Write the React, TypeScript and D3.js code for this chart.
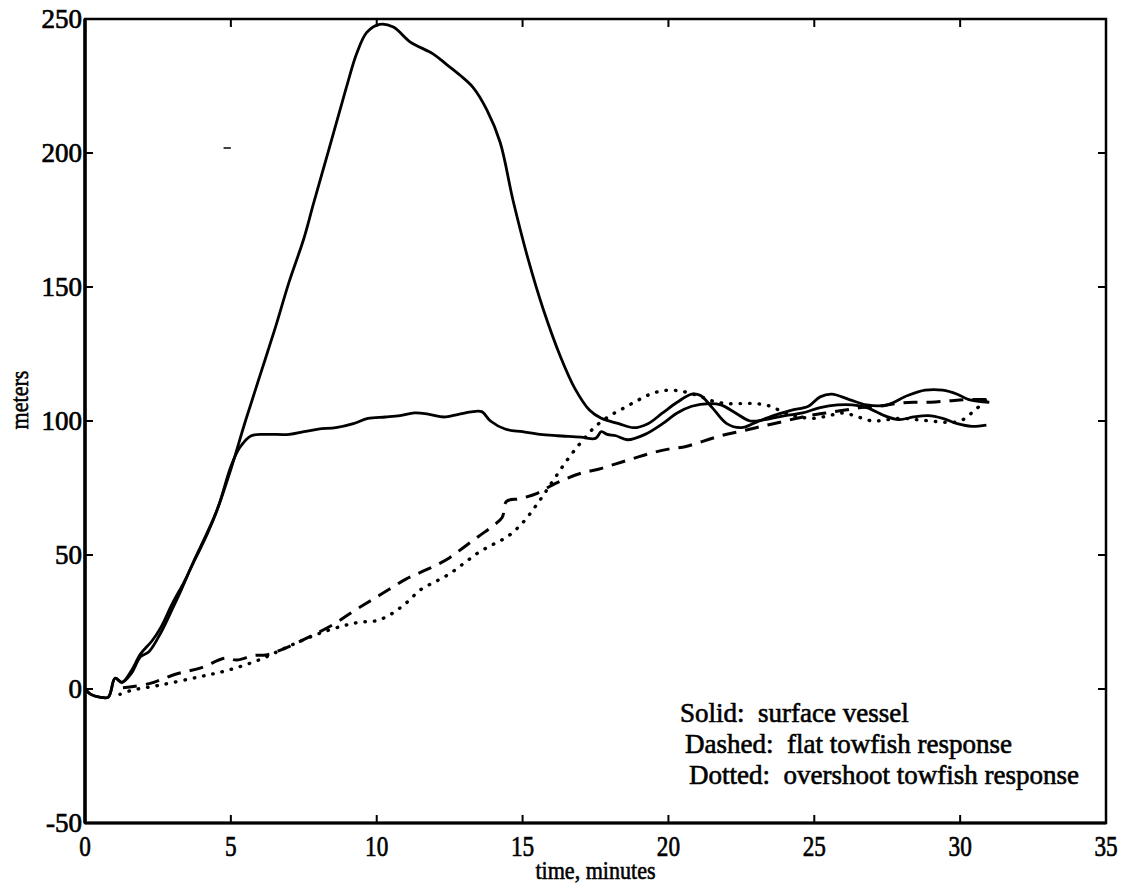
import React from "react";
import * as d3 from "d3";

type P = [number, number];

const xTicks = [0, 5, 10, 15, 20, 25, 30, 35];
const yTicks = [-50, 0, 50, 100, 150, 200, 250];

const surfaceA: P[] = [[0,0],[0.2,-2],[0.5,-3],[0.8,-3],[1.03,4],[1.27,2.5],[1.6,6],[1.9,12],[2.2,14],[2.6,21],[3.0,30],[3.3,37],[3.7,47],[4.0,54],[4.5,66],[5.0,82],[5.5,100],[6,117],[6.5,134],[7,152],[7.5,168],[7.83,181],[8.3,199],[8.74,216],[9.0,226],[9.31,237],[9.66,245],[10.1,248],[10.57,247],[11.14,241.5],[11.93,237],[12.4,233],[12.86,229],[13.3,224.5],[13.78,216],[14.23,204],[14.68,182],[15.2,160],[15.7,142],[16.3,124],[16.8,112],[17.3,104],[17.7,101],[18.3,99],[18.8,97.5],[19.3,99],[19.8,103],[20.3,107],[20.8,110],[21.1,109.5],[21.5,105],[22,99],[22.5,97.5],[23,99.5],[23.6,102],[24.2,104],[24.8,105.5],[25.2,109],[25.6,110],[26.2,108],[26.8,106],[27.5,106],[28.2,109.5],[28.8,111.5],[29.4,111.5],[29.9,110],[30.3,108],[31,107]];

const surfaceB: P[] = [[0,0],[0.2,-2],[0.5,-3],[0.8,-3],[1.03,4],[1.27,2.5],[1.6,7],[1.9,13],[2.3,18],[2.6,23],[3.0,32],[3.4,40],[3.8,49],[4.2,58],[4.6,69],[5.0,83],[5.3,90],[5.7,94.5],[6.2,95],[7,95],[7.5,96],[8,97],[8.6,97.5],[9.2,99],[9.7,101],[10.3,101.5],[10.8,102],[11.3,103],[11.8,102.5],[12.3,101.5],[12.8,102.5],[13.3,103.5],[13.6,103.5],[13.9,100],[14.4,97],[15,96],[15.6,95],[16.2,94.5],[17,94],[17.5,93.5],[17.7,96],[17.9,95],[18.2,94.5],[18.6,93],[19.2,95],[19.8,99],[20.3,103],[20.8,105.5],[21.4,106.5],[21.8,106],[22.3,103],[22.8,100],[23.3,100.5],[24,102],[24.6,103],[25.2,105],[25.8,106],[26.3,106],[26.8,105],[27.4,102],[27.9,100.5],[28.4,101.5],[28.9,102],[29.4,101],[29.9,99],[30.4,98],[30.9,98.5]];

const flatTowfish: P[] = [[1.3,0.5],[2.2,2],[3.1,5.5],[4.0,8],[4.8,11.5],[5.2,10.8],[5.8,12.5],[6.2,12.7],[6.7,14.5],[7.6,19],[8.5,24],[9.2,29],[9.8,33],[10.4,37],[11,41],[11.5,43.5],[12,46],[12.5,49],[13,53],[13.5,57],[14,61],[14.3,64],[14.45,70],[14.9,71],[15.5,73],[16,76],[16.5,78.5],[17,80.5],[17.6,82],[18.2,84],[18.8,86],[19.4,88],[20,89.5],[20.6,90.5],[21.2,92.5],[21.8,94.5],[22.4,96],[23,97.5],[23.6,99],[24.2,100.5],[24.8,102],[25.4,103],[26,104],[26.6,105],[27.2,105.5],[27.8,106.5],[28.4,107],[29,107],[29.6,107.5],[30.2,108],[30.9,108]];

const overshootTowfish: P[] = [[1.2,-2],[1.6,-0.5],[2.6,1.5],[3.9,4.5],[4.9,7],[6,11],[7.1,16.5],[8.1,21],[9,24],[9.5,25],[10,25.5],[10.5,28],[11,32],[11.5,37],[12,40],[12.5,43],[13,47],[13.5,51],[14,54],[14.5,57],[15,62],[15.5,69],[16,77],[16.5,85],[17,92],[17.5,98],[18,102],[18.5,105],[19,108],[19.5,110.5],[20,111.5],[20.5,111],[21,109.5],[21.5,107.5],[22,106.5],[22.5,106.5],[23,106.5],[23.5,105.5],[24,103],[24.5,101.5],[25,101],[25.5,102],[26,103],[26.5,101.5],[27,100],[27.5,100.5],[28,101],[28.5,100.5],[29,100],[29.5,99.5],[30,100],[30.5,104],[31,109]];

const legendLines = ["Solid:  surface vessel", "Dashed:  flat towfish response", "Dotted:  overshoot towfish response"];
const legendIndent = [0, 5, 9];

const W = 1127, H = 896;
const M = { left: 85, right: 1106, top: 19, bottom: 823 };
const FONT = "'Liberation Serif', 'Times New Roman', serif";

export default function App() {
  const x = d3.scaleLinear().domain([0, 35]).range([M.left, M.right]);
  const y = d3.scaleLinear().domain([-50, 250]).range([M.bottom, M.top]);
  const line = d3.line<P>().x(d => x(d[0])).y(d => y(d[1])).curve(d3.curveCatmullRom.alpha(0.5));
  const tick = 8;
  return (
    <svg width={W} height={H} style={{ position: "absolute", left: 0, top: 0, background: "#fff" }} fontFamily={FONT}>
      <rect x={0} y={0} width={W} height={H} fill="#fff" />
      <rect x={M.left} y={M.top} width={M.right - M.left} height={M.bottom - M.top} fill="none" stroke="#000" strokeWidth={2.5} />
      <line x1={M.left} x2={M.left} y1={M.top} y2={M.bottom} stroke="#000" strokeWidth={3.5} />
      <line x1={M.left} x2={M.right} y1={M.bottom} y2={M.bottom} stroke="#000" strokeWidth={3} />
      {xTicks.map(t => (
        <g key={"xt" + t}>
          <line x1={x(t)} x2={x(t)} y1={M.bottom} y2={M.bottom - tick} stroke="#000" strokeWidth={2} />
          <line x1={x(t)} x2={x(t)} y1={M.top} y2={M.top + tick} stroke="#000" strokeWidth={2} />
          <text x={0} y={0} transform={`translate(${x(t)},${M.bottom + 33}) scale(0.8,1)`} textAnchor="middle" fontSize={29} fill="#000" stroke="#000" strokeWidth={0.7}>{t}</text>
        </g>
      ))}
      {yTicks.map(v => (
        <g key={"yt" + v}>
          <line x1={M.left} x2={M.left + tick} y1={y(v)} y2={y(v)} stroke="#000" strokeWidth={2} />
          <line x1={M.right} x2={M.right - tick} y1={y(v)} y2={y(v)} stroke="#000" strokeWidth={2} />
          <text x={M.left - 3} y={y(v) + 9} textAnchor="end" fontSize={27} fill="#000" stroke="#000" strokeWidth={0.7}>{v}</text>
        </g>
      ))}
      <text transform={`translate(${(M.left + M.right) / 2},${M.bottom + 56}) scale(0.85,1)`} textAnchor="middle" fontSize={26} fill="#000" stroke="#000" strokeWidth={0.6}>time, minutes</text>
      <text transform={`translate(28,400) rotate(-90) scale(0.85,1)`} textAnchor="middle" fontSize={26} fill="#000" stroke="#000" strokeWidth={0.6}>meters</text>
      <line x1={x(4.75)} x2={x(5.0)} y1={148} y2={148} stroke="#000" strokeWidth={1.5} />
      <g fill="none" stroke="#000" strokeWidth={2.8} strokeLinejoin="round">
        <path d={line(surfaceA) || ""} />
        <path d={line(surfaceB) || ""} />
        <path d={line(flatTowfish) || ""} strokeDasharray="14 9" strokeWidth={3} />
        <path d={line(overshootTowfish) || ""} strokeDasharray="0.5 9" strokeLinecap="round" strokeWidth={3.4} />
      </g>
      {legendLines.map((s, i) => (
        <text key={s} x={680 + legendIndent[i]} y={722 + i * 31} fontSize={27} fill="#000" stroke="#000" strokeWidth={0.6} style={{ whiteSpace: "pre" }}>{s}</text>
      ))}
    </svg>
  );
}
